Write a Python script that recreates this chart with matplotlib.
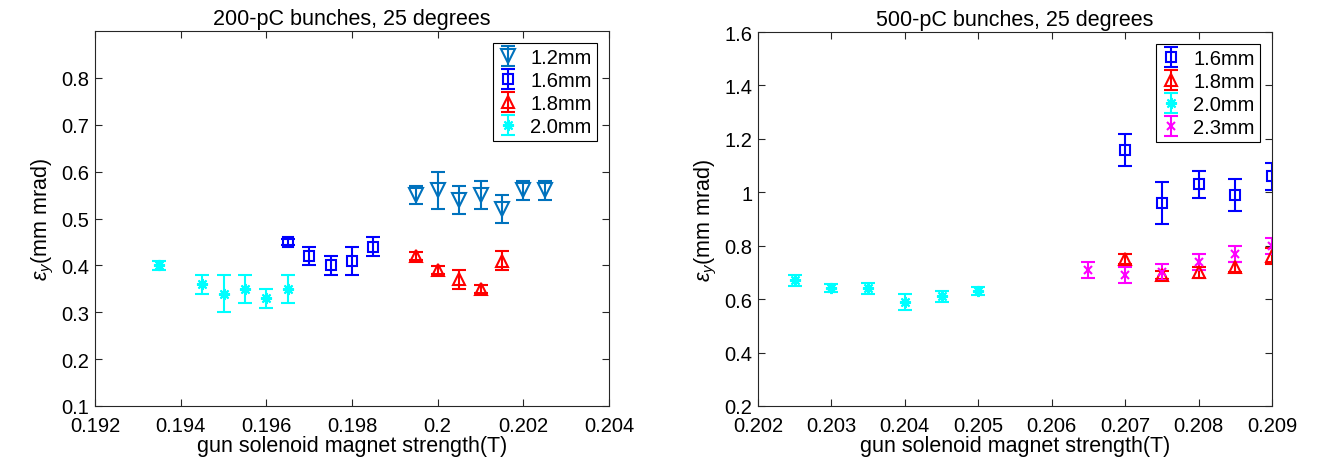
import numpy as np
import matplotlib
matplotlib.use('Agg')
import matplotlib.pyplot as plt

plt.rcParams['font.family'] = ['Liberation Sans', 'DejaVu Sans']
plt.rcParams['font.size'] = 14
plt.rcParams['mathtext.fontset'] = 'custom'
plt.rcParams['mathtext.rm'] = 'Liberation Sans'
plt.rcParams['mathtext.it'] = 'Liberation Sans:italic'

# 200 pC, 25 degrees
b200_12_x = [0.1995, 0.2000, 0.2005, 0.2010, 0.2015, 0.2020, 0.2025]
b200_12_y = [0.55, 0.56, 0.54, 0.55, 0.52, 0.56, 0.56]
b200_12_e = [0.02, 0.04, 0.03, 0.03, 0.03, 0.02, 0.02]

b200_16_x = [0.1965, 0.1970, 0.1975, 0.1980, 0.1985]
b200_16_y = [0.45, 0.42, 0.40, 0.41, 0.44]
b200_16_e = [0.007, 0.02, 0.02, 0.03, 0.02]

b200_18_x = [0.1995, 0.2000, 0.2005, 0.2010, 0.2015]
b200_18_y = [0.42, 0.39, 0.37, 0.35, 0.41]
b200_18_e = [0.008, 0.008, 0.02, 0.008, 0.02]

b200_20_x = [0.1935, 0.1945, 0.1950, 0.1955, 0.1960, 0.1965]
b200_20_y = [0.40, 0.36, 0.34, 0.35, 0.33, 0.35]
b200_20_e = [0.01, 0.02, 0.04, 0.03, 0.02, 0.03]

# 500 pC, 25 degrees
b500_16_x = [0.2070, 0.2075, 0.2080, 0.2085, 0.2090]
b500_16_y = [1.16, 0.96, 1.03, 0.99, 1.06]
b500_16_e = [0.06, 0.08, 0.05, 0.06, 0.05]

b500_18_x = [0.2070, 0.2075, 0.2080, 0.2085, 0.2090]
b500_18_y = [0.75, 0.69, 0.70, 0.72, 0.76]
b500_18_e = [0.02, 0.015, 0.02, 0.02, 0.03]

b500_20_x = [0.2025, 0.2030, 0.2035, 0.2040, 0.2045, 0.2050]
b500_20_y = [0.67, 0.64, 0.64, 0.59, 0.61, 0.63]
b500_20_e = [0.02, 0.015, 0.02, 0.03, 0.02, 0.015]

b500_23_x = [0.2065, 0.2070, 0.2075, 0.2080, 0.2085, 0.2090]
b500_23_y = [0.71, 0.69, 0.70, 0.74, 0.77, 0.80]
b500_23_e = [0.03, 0.03, 0.03, 0.03, 0.03, 0.03]

ASTER = (8, 2, 0)
eb = dict(ls='none', mfc='none', capsize=5, elinewidth=1.5, mew=1.5, capthick=1.5)

fig = plt.figure(figsize=(13.17, 4.77), dpi=100)
ax1 = fig.add_axes([95/1317, 1-407/477, 514/1317, 375/477])
ax2 = fig.add_axes([758/1317, 1-407/477, 514/1317, 374/477])

ax1.errorbar(b200_12_x, b200_12_y, yerr=b200_12_e, marker='v', color='#0072BD', ms=9.5, label='1.2mm', **eb)
ax1.errorbar(b200_16_x, b200_16_y, yerr=b200_16_e, marker='s', color='#0000FF', ms=7, label='1.6mm', **eb)
ax1.errorbar(b200_18_x, b200_18_y, yerr=b200_18_e, marker='^', color='#FF0000', ms=9, label='1.8mm', **eb)
ax1.errorbar(b200_20_x, b200_20_y, yerr=b200_20_e, marker=ASTER, color='#00FFFF', ms=8, label='2.0mm', **eb)
ax1.set_xlim(0.192, 0.204)
ax1.set_ylim(0.1, 0.9)
ax1.set_xticks([0.192, 0.194, 0.196, 0.198, 0.2, 0.202, 0.204])
ax1.set_xticklabels(['0.192', '0.194', '0.196', '0.198', '0.2', '0.202', '0.204'])
ax1.set_yticks(np.arange(1, 9) / 10)
ax1.set_yticklabels(['0.1', '0.2', '0.3', '0.4', '0.5', '0.6', '0.7', '0.8'])
ax1.set_title('200-pC bunches, 25 degrees', fontsize=15.5, pad=5)

ax2.errorbar(b500_16_x, b500_16_y, yerr=b500_16_e, marker='s', color='#0000FF', ms=7, label='1.6mm', **eb)
ax2.errorbar(b500_18_x, b500_18_y, yerr=b500_18_e, marker='^', color='#FF0000', ms=9, label='1.8mm', **eb)
ax2.errorbar(b500_20_x, b500_20_y, yerr=b500_20_e, marker=ASTER, color='#00FFFF', ms=8, label='2.0mm', **eb)
ax2.errorbar(b500_23_x, b500_23_y, yerr=b500_23_e, marker='x', color='#FF00FF', ms=6, label='2.3mm', **eb)
ax2.set_xlim(0.202, 0.209)
ax2.set_ylim(0.2, 1.6)
ax2.set_xticks([0.202, 0.203, 0.204, 0.205, 0.206, 0.207, 0.208, 0.209])
ax2.set_xticklabels(['0.202', '0.203', '0.204', '0.205', '0.206', '0.207', '0.208', '0.209'])
ax2.set_yticks([0.2, 0.4, 0.6, 0.8, 1.0, 1.2, 1.4, 1.6])
ax2.set_yticklabels(['0.2', '0.4', '0.6', '0.8', '1', '1.2', '1.4', '1.6'])
ax2.set_title('500-pC bunches, 25 degrees', fontsize=15.5, pad=5)

for ax in (ax1, ax2):
    ax.set_xlabel('gun solenoid magnet strength(T)', fontsize=15.5, labelpad=0)
    ax.set_ylabel(r'$\epsilon_y$(mm mrad)', fontsize=15.5, labelpad=4)
    ax.tick_params(direction='in', top=True, right=True, length=5, width=0.8,
                   labelsize=14.5, colors='#262626', labelcolor='black')
    ax.tick_params(axis='x', pad=7)
    ax.tick_params(axis='y', pad=4)
    for s in ax.spines.values():
        s.set_color('#262626')
        s.set_linewidth(0.8)
    leg = ax.legend(loc='upper right', fontsize=14.5, frameon=True, fancybox=False,
                    edgecolor='black', framealpha=1, handlelength=1.0,
                    borderpad=0.25, labelspacing=0.2, handletextpad=0.6,
                    borderaxespad=0.6)
    leg.get_frame().set_linewidth(0.8)

fig.savefig('out.png', dpi=100)
